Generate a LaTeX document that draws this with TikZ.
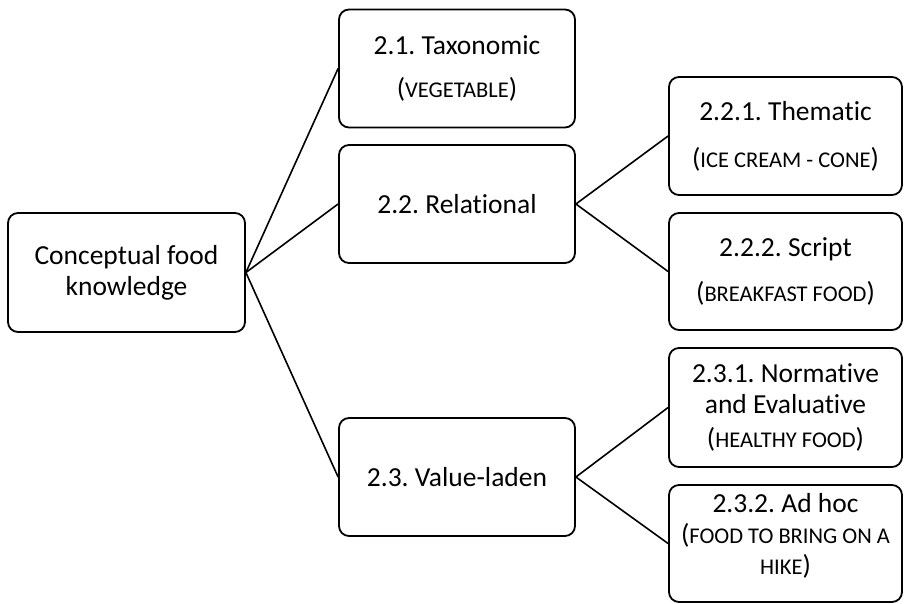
\documentclass[tikz,border=0pt]{standalone}
\usepackage{fontspec}
\setmainfont{Carlito}[Ligatures=NoCommon]
\frenchspacing
\newcommand\smc[1]{{\fontsize{22.5}{31}\selectfont #1}}
\begin{document}
\begin{tikzpicture}[x=1pt,y=-1pt,
  box/.style={draw, line width=1.8pt, rounded corners=10pt, inner sep=0pt,
    align=center, font=\fontsize{27.5}{31}\selectfont},
  mid/.style={box, minimum width=236pt, minimum height=118pt},
  leaf/.style={box, minimum width=233pt},
  link/.style={line width=1.6pt}]
\useasboundingbox (0,0) rectangle (904,603);
\node[box, minimum width=237pt, minimum height=119pt] (root) at (126.5,272.5) {Conceptual food\\knowledge};
\node[mid] (tax) at (457,68.5) {2.1. Taxonomic\\[12pt](\smc{VEGETABLE})};
\node[mid] (rel) at (457,204) {2.2. Relational};
\node[mid] (val) at (457,477) {2.3. Value-laden};
\node[leaf, minimum height=118pt] (them) at (785.5,136) {2.2.1. Thematic\\[16pt](\smc{ICE CREAM - CONE})};
\node[leaf, minimum height=117pt] (script) at (785.5,271.5) {2.2.2. Script\\[14pt](\smc{BREAKFAST FOOD})};
\node[leaf, minimum height=119pt] (norm) at (785.5,407.5) {2.3.1. Normative\\and Evaluative\\[3pt](\smc{HEALTHY FOOD})};
\node[leaf, minimum height=117pt] (adhoc) at (785.5,543.5) {2.3.2. Ad hoc\\(\smc{FOOD TO BRING ON A}\\\smc{HIKE})\rule[-20pt]{0pt}{0pt}};
\draw[link] (root.east) -- (tax.west);
\draw[link] (root.east) -- (rel.west);
\draw[link] (root.east) -- (val.west);
\draw[link] (rel.east) -- (them.west);
\draw[link] (rel.east) -- (script.west);
\draw[link] (val.east) -- (norm.west);
\draw[link] (val.east) -- (adhoc.west);
\end{tikzpicture}
\end{document}
